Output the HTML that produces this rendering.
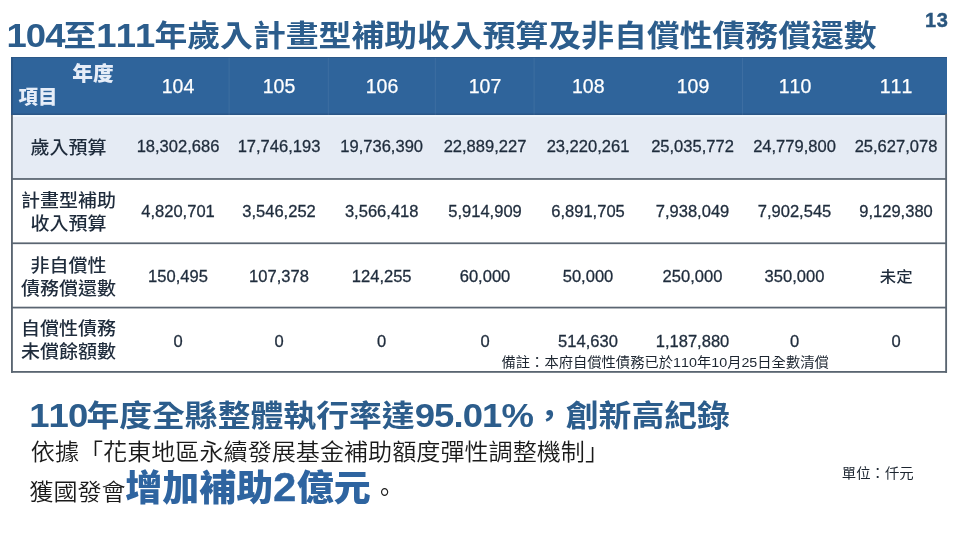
<!DOCTYPE html>
<html lang="zh-Hant">
<head>
<meta charset="utf-8">
<title>104至111年歲入計畫型補助收入預算及非自償性債務償還數</title>
<style>
html,body{margin:0;padding:0;}
body{width:960px;height:540px;background:#fff;position:relative;overflow:hidden;font-kerning:none;
 font-family:"Liberation Sans","Noto Sans CJK TC","Noto Sans CJK SC",sans-serif;color:#222;}
.abs{position:absolute;white-space:nowrap;}
#pg{left:925px;top:7.5px;font-size:20px;line-height:24px;font-weight:bold;color:#2a567e;letter-spacing:0.6px;-webkit-text-stroke:0.4px #2a567e;}
#sub{left:28.25px;top:392.3px;}
#title,#sub{font-size:32.85px;line-height:44px;font-weight:bold;color:#2c5d8c;transform:scaleY(0.91);transform-origin:0 32px;}
#title{left:5.4px;top:12.3px;}
#title b,.sub b{font-size:1.11em;letter-spacing:-0.9px;font-weight:inherit;position:relative;top:1.2px;}
#title b:first-child,.sub b:first-child{margin-left:1px;margin-right:-1px;}
i{font-style:normal;}
.c{position:absolute;text-align:center;white-space:nowrap;transform:translateX(-50%);}
.hn{top:73px;font-size:19.5px;line-height:26px;color:#fff;-webkit-text-stroke:0.25px #fff;}
.n{font-size:16.55px;line-height:22px;color:#1f2c3c;-webkit-text-stroke:0.3px #1f2c3c;}
.lab{font-weight:500;font-size:19px;line-height:23.8px;color:#1f2c3c;left:68.5px;transform:translateX(-50%) scaleY(0.93);}
</style>
</head>
<body>
<div class="abs" id="pg">13</div>
<div class="abs" id="title"><b>104</b>至<b>111</b>年歲入計畫型補助收入預算及非自償性債務償還數</div>

<svg class="abs" style="left:0;top:0" width="960" height="540" viewBox="0 0 960 540">
<rect x="11" y="57" width="936" height="58" fill="#2f649b"/>
<rect x="11" y="113.5" width="936" height="1.5" fill="#294f7a" fill-opacity="0.6"/>
<rect x="11.9" y="115" width="934.2" height="64" fill="#e5ebf4"/>
<rect x="11.9" y="115" width="934.2" height="2" fill="#eef5fc"/>
<g fill="#fff" fill-opacity="0.07"><rect x="228.6" y="57" width="1" height="58"/><rect x="327.8" y="57" width="1" height="58"/><rect x="434.8" y="57" width="1" height="58"/><rect x="533.6" y="57" width="1" height="58"/><rect x="742" y="57" width="1" height="58"/></g>
<g fill="#5a6571">
<rect x="11" y="178.1" width="936" height="1.75"/>
<rect x="11" y="242.4" width="936" height="1.75"/>
<rect x="11" y="306.7" width="936" height="1.75"/>
<rect x="11" y="371" width="936" height="1.8"/>
<rect x="11" y="114" width="1.85" height="258.8"/>
<rect x="945.2" y="114" width="1.85" height="258.8"/>
</g>
<rect x="11" y="57" width="1.85" height="58" fill="#2b5583"/>
<rect x="11" y="57" width="936" height="1" fill="#2b5583" fill-opacity="0.8"/>
</svg>
<div class="abs" style="left:72.3px;top:59.7px;font-size:20.7px;font-weight:900;color:#e6edf8;line-height:28px;">年度</div>
<div class="abs" style="left:18.6px;top:82.5px;font-size:19.4px;font-weight:900;color:#e6edf8;line-height:28px;">項目</div>

<div class="c hn" style="left:178px">104</div>
<div class="c hn" style="left:279px">105</div>
<div class="c hn" style="left:382px">106</div>
<div class="c hn" style="left:485px">107</div>
<div class="c hn" style="left:588.3px">108</div>
<div class="c hn" style="left:693px">109</div>
<div class="c hn" style="left:795px">110</div>
<div class="c hn" style="left:896px">111</div>

<div class="c lab" style="top:136px">歲入預算</div>
<div class="c lab" style="top:188.5px">計畫型補助<br>收入預算</div>
<div class="c lab" style="top:254px">非自償性<br>債務償還數</div>
<div class="c lab" style="top:317px">自償性債務<br>未償餘額數</div>

<div class="c n" style="left:178px;top:136px">18,302,686</div>
<div class="c n" style="left:279px;top:136px">17,746,193</div>
<div class="c n" style="left:381.7px;top:136px">19,736,390</div>
<div class="c n" style="left:485px;top:136px">22,889,227</div>
<div class="c n" style="left:588px;top:136px">23,220,261</div>
<div class="c n" style="left:692.5px;top:136px">25,035,772</div>
<div class="c n" style="left:794.5px;top:136px">24,779,800</div>
<div class="c n" style="left:896px;top:136px">25,627,078</div>

<div class="c n" style="left:178px;top:200.6px">4,820,701</div>
<div class="c n" style="left:279px;top:200.6px">3,546,252</div>
<div class="c n" style="left:381.7px;top:200.6px">3,566,418</div>
<div class="c n" style="left:485px;top:200.6px">5,914,909</div>
<div class="c n" style="left:588px;top:200.6px">6,891,705</div>
<div class="c n" style="left:692.5px;top:200.6px">7,938,049</div>
<div class="c n" style="left:794.5px;top:200.6px">7,902,545</div>
<div class="c n" style="left:896px;top:200.6px">9,129,380</div>

<div class="c n" style="left:178px;top:266px">150,495</div>
<div class="c n" style="left:279px;top:266px">107,378</div>
<div class="c n" style="left:381.7px;top:266px">124,255</div>
<div class="c n" style="left:485px;top:266px">60,000</div>
<div class="c n" style="left:588px;top:266px">50,000</div>
<div class="c n" style="left:692.5px;top:266px">250,000</div>
<div class="c n" style="left:794.5px;top:266px">350,000</div>
<div class="c n" style="left:896.2px;top:265.5px;font-size:16.4px;font-weight:500;-webkit-text-stroke:0;transform:translateX(-50%) scaleY(0.91);">未定</div>

<div class="c n" style="left:178px;top:331px">0</div>
<div class="c n" style="left:279px;top:331px">0</div>
<div class="c n" style="left:381.7px;top:331px">0</div>
<div class="c n" style="left:485px;top:331px">0</div>
<div class="c n" style="left:588px;top:331px">514,630</div>
<div class="c n" style="left:692.5px;top:331px">1,187,880</div>
<div class="c n" style="left:794.5px;top:331px">0</div>
<div class="c n" style="left:896px;top:331px">0</div>

<div class="abs" style="left:501.5px;top:352px;font-size:14.3px;line-height:20px;color:#1c2530;transform:scaleY(0.93);">備註：本府自償性債務已於<i>110</i>年<i>10</i>月<i>25</i>日全數清償</div>

<div class="abs sub" id="sub"><b>110</b>年度全縣整體執行率達<b>95.01%</b>，創新高紀錄</div>
<div class="abs" style="left:30.8px;top:435.5px;font-size:24.1px;line-height:32px;color:#1a1a1a;font-weight:350;transform:scaleY(0.95);">依據「花東地區永續發展基金補助額度彈性調整機制」</div>
<div class="abs" style="left:29.3px;top:476px;font-size:24.1px;line-height:32px;color:#1a1a1a;font-weight:350;transform:scaleY(0.95);">獲國發會</div>
<div class="abs" id="big" style="left:125.3px;top:461.5px;font-size:37px;line-height:50px;font-weight:900;color:#2e64a0;transform:scaleY(0.97);transform-origin:0 40px;">增加補助<b style="font-size:41.3px;font-weight:bold;letter-spacing:0.5px;-webkit-text-stroke:0.5px #2e64a0;">2</b>億元</div>
<div class="abs" style="left:372.5px;top:476.5px;font-size:24.1px;line-height:32px;color:#1a1a1a;font-weight:350;">。</div>
<div class="abs" style="left:841.8px;top:463px;font-size:14.4px;line-height:20px;color:#1c2530;transform:scaleY(0.95);">單位：仟元</div>
</body>
</html>
